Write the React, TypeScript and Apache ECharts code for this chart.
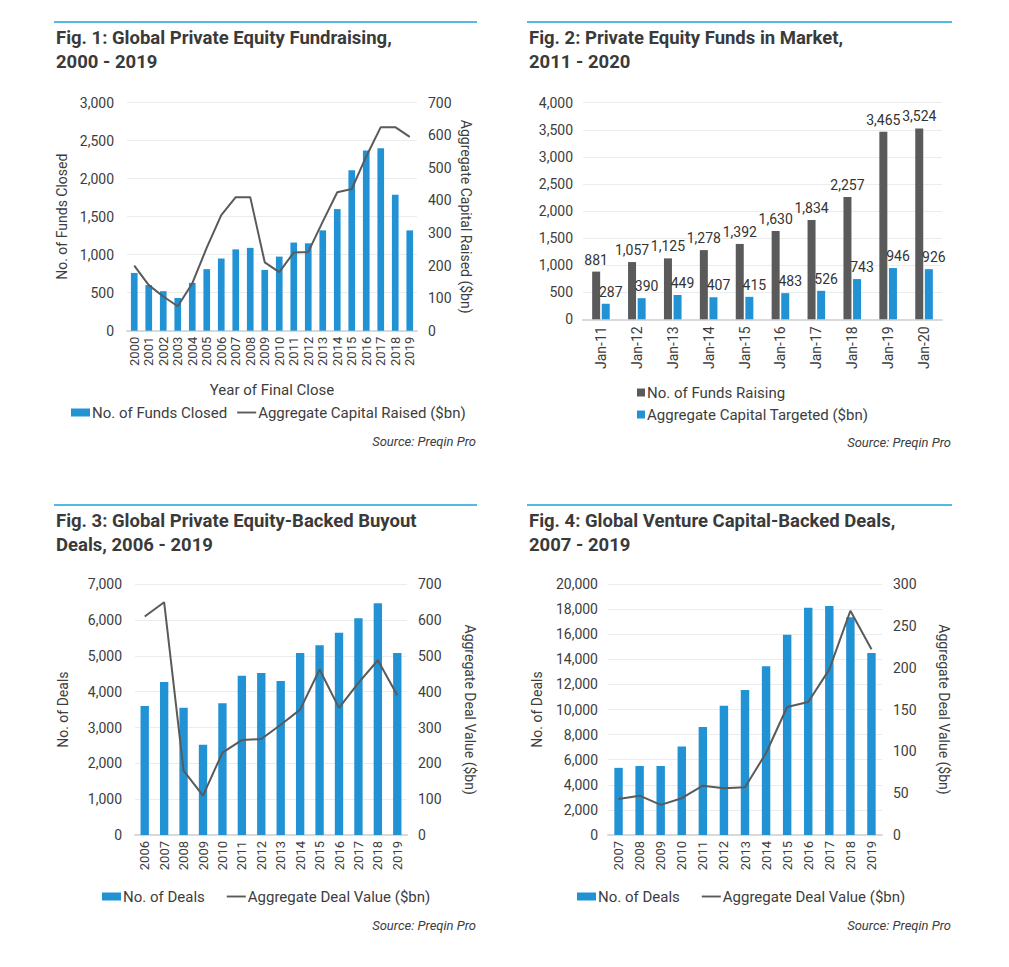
import React, { useEffect, useRef } from "react";
import * as echarts from "echarts";

// Fig. 1
const years1 = ["2000","2001","2002","2003","2004","2005","2006","2007","2008","2009","2010","2011","2012","2013","2014","2015","2016","2017","2018","2019"];
const fundsClosed = [760, 600, 520, 430, 630, 810, 950, 1070, 1090, 800, 975, 1160, 1150, 1320, 1600, 2110, 2370, 2400, 1790, 1320];
const capitalRaised = [200, 140, 105, 75, 145, 255, 355, 410, 410, 210, 180, 240, 242, 335, 425, 435, 535, 625, 625, 595];

// Fig. 2
const months2 = ["Jan-11","Jan-12","Jan-13","Jan-14","Jan-15","Jan-16","Jan-17","Jan-18","Jan-19","Jan-20"];
const fundsRaising = [881, 1057, 1125, 1278, 1392, 1630, 1834, 2257, 3465, 3524];
const capitalTargeted = [287, 390, 449, 407, 415, 483, 526, 743, 946, 926];

// Fig. 3
const years3 = ["2006","2007","2008","2009","2010","2011","2012","2013","2014","2015","2016","2017","2018","2019"];
const buyoutDeals = [3600, 4270, 3550, 2520, 3680, 4450, 4520, 4300, 5080, 5300, 5650, 6050, 6470, 5080];
const buyoutValue = [610, 650, 180, 110, 230, 265, 268, 308, 350, 462, 355, 425, 488, 390];

// Fig. 4
const years4 = ["2007","2008","2009","2010","2011","2012","2013","2014","2015","2016","2017","2018","2019"];
const vcDeals = [5350, 5500, 5500, 7050, 8600, 10300, 11550, 13450, 15950, 18100, 18250, 17350, 14500];
const vcValue = [43, 47, 36, 44, 59, 56, 57, 98, 153, 159, 198, 268, 222];

const titles = [
  ["Fig. 1: Global Private Equity Fundraising,", "2000 - 2019"],
  ["Fig. 2: Private Equity Funds in Market,", "2011 - 2020"],
  ["Fig. 3: Global Private Equity-Backed Buyout", "Deals, 2006 - 2019"],
  ["Fig. 4: Global Venture Capital-Backed Deals,", "2007 - 2019"],
];

const BLUE = "#2193d5";
const GRAY = "#5a5a5a";
const TXT = "#3d3d3d";
const FONT = "Roboto";
const LINE_ICON = "path://M0,0 L20,0 L20,2 L0,2 Z";

const fmt = (v: number) => v.toLocaleString("en-US");

export default function App() {
  const ref = useRef<HTMLDivElement>(null);
  useEffect(() => {
    const chart = echarts.init(ref.current!, null, { renderer: "svg" });

    const axisLabel = { color: TXT, fontFamily: FONT, fontSize: 14 };
    const catAxis = (data: string[], gridIndex: number, extra: any = {}) => ({
      type: "category",
      gridIndex,
      data,
      axisTick: { show: false },
      axisLine: { lineStyle: { color: "#d9d9d9", width: 2 } },
      axisLabel: { color: TXT, fontFamily: FONT, fontSize: 13, rotate: 90, interval: 0, margin: 6 },
      ...extra,
    });
    const valAxis = (gridIndex: number, max: number, interval: number, extra: any = {}) => ({
      type: "value",
      gridIndex,
      min: 0,
      max,
      interval,
      axisLine: { show: false },
      axisTick: { show: false },
      splitLine: { lineStyle: { color: "#ececec", width: 1 } },
      axisLabel: { ...axisLabel, formatter: fmt, margin: 13 },
      nameLocation: "middle",
      nameTextStyle: { color: TXT, fontFamily: FONT, fontSize: 14 },
      ...extra,
    });

    const graphics: any[] = [];
    const panels = [
      { x: 54, w: 423, y: 22 },
      { x: 527, w: 425, y: 22 },
      { x: 54, w: 423, y: 505 },
      { x: 527, w: 425, y: 505 },
    ];
    panels.forEach((p, i) => {
      graphics.push({
        type: "line",
        shape: { x1: p.x, y1: p.y, x2: p.x + p.w, y2: p.y },
        style: { stroke: "#1ea0dc", lineWidth: 1.5 },
      });
      graphics.push({
        type: "text",
        x: p.x + 2,
        y: p.y + 16,
        style: { text: titles[i][0], font: `bold 18.5px ${FONT}`, fill: "#3a3a3a", verticalAlign: "middle" },
      });
      graphics.push({
        type: "text",
        x: p.x + 2,
        y: p.y + 40,
        style: { text: titles[i][1], font: `bold 18.5px ${FONT}`, fill: "#3a3a3a", verticalAlign: "middle" },
      });
    });
    const sources = [
      { x: 476, y: 441 },
      { x: 951, y: 442 },
      { x: 476, y: 925 },
      { x: 951, y: 925 },
    ];
    sources.forEach((s) => {
      graphics.push({
        type: "text",
        x: s.x,
        y: s.y,
        style: { text: "Source: Preqin Pro", font: `italic 13px ${FONT}`, fill: "#3d3d3d", align: "right", verticalAlign: "middle" },
      });
    });

    const legendText = { color: TXT, fontFamily: FONT, fontSize: 15, padding: [0, 0, 0, -3] };

    chart.setOption({
      animation: false,
      backgroundColor: "#ffffff",
      graphic: graphics,
      grid: [
        { left: 127, top: 102.7, width: 290, height: 228 },
        { left: 583, top: 102.7, width: 359, height: 216.6 },
        { left: 135, top: 584.3, width: 272, height: 250.7 },
        { left: 608, top: 584, width: 274, height: 251 },
      ],
      xAxis: [
        catAxis(years1, 0, {
          name: "Year of Final Close",
          nameLocation: "middle",
          nameGap: 52,
          nameTextStyle: { color: TXT, fontFamily: FONT, fontSize: 15 },
        }),
        catAxis(months2, 1, { axisLabel: { color: TXT, fontFamily: FONT, fontSize: 14, rotate: 90, interval: 0, margin: 7 } }),
        catAxis(years3, 2),
        catAxis(years4, 3),
      ],
      yAxis: [
        valAxis(0, 3000, 500, { name: "No. of Funds Closed", nameGap: 58, nameRotate: 90 }),
        valAxis(0, 700, 100, {
          position: "right",
          splitLine: { show: false },
          axisLabel: { ...axisLabel, margin: 11 },
          name: "Aggregate Capital Raised ($bn)",
          nameGap: 42,
          nameRotate: -90,
        }),
        valAxis(1, 4000, 500, { axisLabel: { ...axisLabel, formatter: fmt, margin: 10 } }),
        valAxis(2, 7000, 1000, { name: "No. of Deals", nameGap: 65, nameRotate: 90 }),
        valAxis(2, 700, 100, {
          position: "right",
          splitLine: { show: false },
          axisLabel: { ...axisLabel, margin: 11 },
          name: "Aggregate Deal Value ($bn)",
          nameGap: 56,
          nameRotate: -90,
        }),
        valAxis(3, 20000, 2000, { name: "No. of Deals", nameGap: 64, nameRotate: 90, axisLabel: { ...axisLabel, formatter: fmt, margin: 10 } }),
        valAxis(3, 300, 50, {
          position: "right",
          splitLine: { show: false },
          axisLabel: { ...axisLabel, margin: 11 },
          name: "Aggregate Deal Value ($bn)",
          nameGap: 55,
          nameRotate: -90,
        }),
      ],
      legend: [
        {
          left: 71, top: 405, padding: 0, itemWidth: 19, itemHeight: 8, itemGap: 10,
          textStyle: legendText,
          data: [{ name: "No. of Funds Closed", icon: "rect" }, { name: "Aggregate Capital Raised ($bn)", icon: LINE_ICON }],
        },
        {
          left: 637, top: 385, padding: 0, orient: "vertical", itemWidth: 8, itemHeight: 8, itemGap: 7,
          textStyle: legendText,
          data: [{ name: "No. of Funds Raising", icon: "rect" }, { name: "Aggregate Capital Targeted ($bn)", icon: "rect" }],
        },
        {
          left: 102, top: 889, padding: 0, itemWidth: 19, itemHeight: 8, itemGap: 22,
          textStyle: legendText,
          data: [{ name: "No. of Deals", icon: "rect" }, { name: "Aggregate Deal Value ($bn)", icon: LINE_ICON }],
        },
        {
          left: 577, top: 889, padding: 0, itemWidth: 19, itemHeight: 8, itemGap: 22,
          textStyle: legendText,
          data: [{ name: "No. of Deals", icon: "rect" }, { name: "Aggregate Deal Value ($bn)", icon: LINE_ICON }],
        },
      ],
      series: [
        { name: "No. of Funds Closed", type: "bar", xAxisIndex: 0, yAxisIndex: 0, data: fundsClosed, barWidth: "46%", itemStyle: { color: BLUE } },
        { name: "Aggregate Capital Raised ($bn)", type: "line", xAxisIndex: 0, yAxisIndex: 1, data: capitalRaised, symbol: "none", lineStyle: { color: GRAY, width: 2 }, itemStyle: { color: GRAY } },
        {
          name: "No. of Funds Raising", type: "bar", xAxisIndex: 1, yAxisIndex: 2, data: fundsRaising, barWidth: 8, barGap: "20%",
          itemStyle: { color: GRAY },
          label: { show: true, position: "top", formatter: (p: any) => fmt(p.value), color: "#333", fontFamily: FONT, fontSize: 14 },
        },
        {
          name: "Aggregate Capital Targeted ($bn)", type: "bar", xAxisIndex: 1, yAxisIndex: 2, data: capitalTargeted, barWidth: 8, barGap: "20%",
          itemStyle: { color: BLUE },
          label: { show: true, position: "top", offset: [5, 0], formatter: (p: any) => fmt(p.value), color: "#333", fontFamily: FONT, fontSize: 14 },
        },
        { name: "No. of Deals", type: "bar", xAxisIndex: 2, yAxisIndex: 3, data: buyoutDeals, barWidth: "43%", itemStyle: { color: BLUE } },
        { name: "Aggregate Deal Value ($bn)", type: "line", xAxisIndex: 2, yAxisIndex: 4, data: buyoutValue, symbol: "none", lineStyle: { color: GRAY, width: 2 }, itemStyle: { color: GRAY } },
        { name: "No. of Deals", type: "bar", xAxisIndex: 3, yAxisIndex: 5, data: vcDeals, barWidth: "40%", itemStyle: { color: BLUE } },
        { name: "Aggregate Deal Value ($bn)", type: "line", xAxisIndex: 3, yAxisIndex: 6, data: vcValue, symbol: "none", lineStyle: { color: GRAY, width: 2 }, itemStyle: { color: GRAY } },
      ],
    });
    return () => chart.dispose();
  }, []);
  return <div ref={ref} style={{ position: "absolute", left: 0, top: 0, width: 1009, height: 967 }} />;
}
